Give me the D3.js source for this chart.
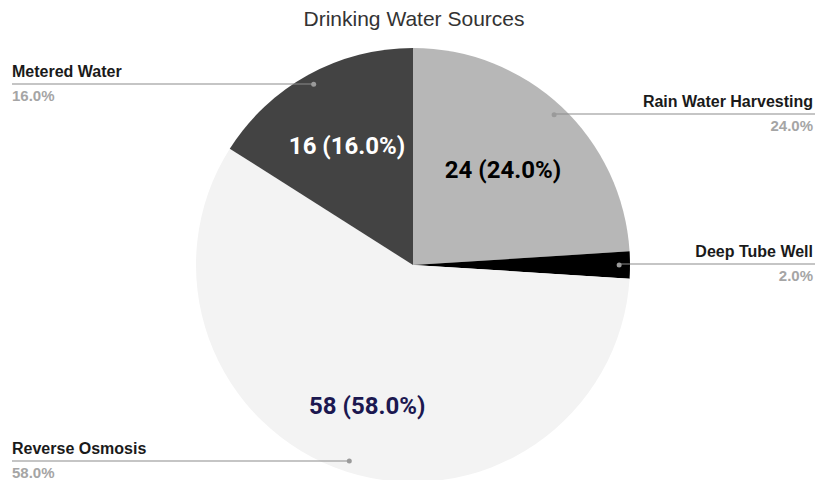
<!DOCTYPE html>
<html><head><meta charset="utf-8">
<script src="https://cdn.jsdelivr.net/npm/d3@7"></script>
<style>body{margin:0;background:#fff;overflow:hidden}</style>
</head><body>
<svg id="c" width="815" height="480"></svg>
<script>
const categories = ["Rain Water Harvesting", "Deep Tube Well", "Reverse Osmosis", "Metered Water"];
const values = [24, 2, 58, 16];
const colors = ["#b7b7b7", "#000000", "#f3f3f3", "#434343"];
const labelColors = ["#000000", "#ffffff", "#1c1850", "#ffffff"];
const legendSide = ["right", "right", "left", "left"];
const legendY = [114, 264, 461, 84];
const labelRadiusFactor = [0.606, 0.64, 0.682, 0.631];

const W = 815, H = 480, cx = 413, cy = 265, r = 217;
const svg = d3.select("#c");
svg.append("rect").attr("width", W).attr("height", H).attr("fill", "#fff");

svg.append("text").attr("x", 414).attr("y", 26).attr("text-anchor", "middle")
  .attr("font-family", "Liberation Sans, Arial, sans-serif").attr("font-size", 21)
  .attr("fill", "#333").text("Drinking Water Sources");

const total = d3.sum(values);
const pie = d3.pie().sort(null).value(d => d)(values);
const arc = d3.arc().innerRadius(0).outerRadius(r);
const g = svg.append("g").attr("transform", `translate(${cx},${cy})`);
g.selectAll("path").data(pie).join("path").attr("d", arc).attr("fill", (d, i) => colors[i]);

g.selectAll("text.sl").data(pie.filter(d => d.data / total > 0.05)).join("text").attr("class", "sl")
  .attr("transform", d => {
    const k = r * labelRadiusFactor[d.index];
    return `translate(${d3.arc().innerRadius(k).outerRadius(k).centroid(d)})`;
  })
  .attr("text-anchor", "middle").attr("dy", "0.36em")
  .attr("font-family", "Roboto, sans-serif").attr("font-weight", "bold").attr("font-size", 24)
  .attr("fill", d => labelColors[d.index])
  .text(d => `${d.data} (${(d.data / total * 100).toFixed(1)}%)`);

const dotArc = d3.arc().innerRadius(r * 0.95).outerRadius(r * 0.95);
pie.forEach((d, i) => {
  const [dx, dy] = dotArc.centroid(d);
  const px = cx + dx, py = legendY[i];
  const right = legendSide[i] === "right";
  const x2 = right ? W : 12;
  svg.append("line").attr("x1", px).attr("y1", py).attr("x2", x2).attr("y2", py)
    .attr("stroke", "#8c8c8c").attr("stroke-width", 1.2);
  svg.append("circle").attr("cx", px).attr("cy", cy + dy).attr("r", 2.5).attr("fill", "#9a9a9a");
  const tx = right ? 813 : 12;
  const anchor = right ? "end" : "start";
  svg.append("text").attr("x", tx).attr("y", py - 7).attr("text-anchor", anchor)
    .attr("font-family", "Liberation Sans, Arial, sans-serif").attr("font-weight", "bold")
    .attr("font-size", 16).attr("fill", "#1a1a1a").text(categories[i]);
  svg.append("text").attr("x", tx).attr("y", py + 16.5).attr("text-anchor", anchor)
    .attr("font-family", "Liberation Sans, Arial, sans-serif").attr("font-weight", "bold")
    .attr("font-size", 15).attr("fill", "#a5a5a5").text((values[i] / total * 100).toFixed(1) + "%");
});
</script>
</body></html>
